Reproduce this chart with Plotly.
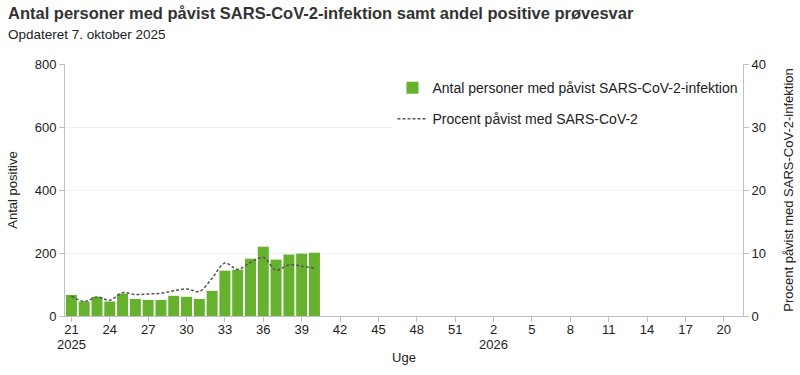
import plotly.graph_objects as go

# Data (2025, ISO weeks 21-40)
weeks = ["2025-W21", "2025-W22", "2025-W23", "2025-W24", "2025-W25", "2025-W26", "2025-W27",
         "2025-W28", "2025-W29", "2025-W30", "2025-W31", "2025-W32", "2025-W33", "2025-W34",
         "2025-W35", "2025-W36", "2025-W37", "2025-W38", "2025-W39", "2025-W40"]
antal_positive = [67, 46, 61, 46, 71, 54, 51, 51, 64, 61, 54, 80, 144, 147, 182, 220, 179, 195, 198, 201]
procent_positive = [3.2, 2.3, 3.0, 2.5, 3.7, 3.4, 3.5, 3.6, 4.0, 4.3, 3.9, 6.0, 8.4, 7.4, 8.5, 9.3, 7.3, 8.1, 7.9, 7.6]

# Axis categories: 2025-W21 .. 2026-W21
categories = [f"2025-W{w:02d}" for w in range(21, 53)] + [f"2026-W{w:02d}" for w in range(1, 22)]
tick_vals = categories[0:52:3]
tick_text = [str(int(c.split("-W")[1])) for c in tick_vals]
year_marks = [("2025-W21", "2025"), ("2026-W02", "2026")]

FONT = "Arial, Liberation Sans, sans-serif"
GREEN = "#66B22F"
AXC = "#c0c0c0"

fig = go.Figure()
fig.add_trace(go.Bar(
    x=weeks, y=antal_positive, name="Antal personer med påvist SARS-CoV-2-infektion",
    marker=dict(color=GREEN, line=dict(width=0)), legendgroup="a",
))
fig.add_trace(go.Scatter(
    x=weeks, y=procent_positive, name="Procent påvist med SARS-CoV-2",
    mode="lines", line=dict(color="#555555", width=1.5, dash="3px,2px", shape="spline"),
    yaxis="y2", legendgroup="b",
))

annotations = [
    dict(text="<b>Antal personer med påvist SARS-CoV-2-infektion samt andel positive prøvesvar</b>",
         xref="paper", yref="paper", x=0, y=1, xanchor="left", yanchor="top",
         showarrow=False, font=dict(size=16.5, color="#333333"), xshift=-59, yshift=62),
    dict(text="Opdateret 7. oktober 2025",
         xref="paper", yref="paper", x=0, y=1, xanchor="left", yanchor="top",
         showarrow=False, font=dict(size=13.5, color="#222222"), xshift=-59, yshift=39),
]
for cat, label in year_marks:
    annotations.append(dict(text=label, xref="x", yref="paper", x=cat, y=0,
                            xanchor="center", yanchor="middle", showarrow=False,
                            font=dict(size=13, color="#222222"), yshift=-28.5))

fig.update_layout(
    width=800, height=375,
    margin=dict(l=65, r=57, t=64, b=59),
    paper_bgcolor="white", plot_bgcolor="white",
    font=dict(family=FONT, size=13, color="#222222"),
    bargap=0.14,
    showlegend=True,
    legend=dict(x=0.483, y=0.968, xanchor="left", yanchor="top",
                bgcolor="white", font=dict(size=14, color="#222222"),
                tracegroupgap=10, traceorder="grouped"),
    xaxis=dict(
        type="category", categoryorder="array", categoryarray=categories,
        range=[-0.5, len(categories) - 0.5],
        tickmode="array", tickvals=tick_vals, ticktext=tick_text,
        ticks="outside", ticklen=5, tickcolor=AXC,
        showline=True, linecolor=AXC, linewidth=1,
        showgrid=False, tickangle=0, automargin=False,
        ticklabelstandoff=-4,
        title=dict(text="Uge", font=dict(size=13), standoff=17),
        tickfont=dict(size=13),
    ),
    yaxis=dict(
        range=[0, 800], dtick=200,
        ticks="outside", ticklen=5, tickcolor=AXC,
        showline=True, linecolor=AXC, linewidth=1,
        showgrid=True, gridcolor="#eeeeee", zeroline=False, automargin=False,
        title=dict(text="Antal positive", font=dict(size=13), standoff=14),
        tickfont=dict(size=13),
    ),
    yaxis2=dict(
        overlaying="y", side="right", range=[0, 40], dtick=10,
        ticks="outside", ticklen=5, tickcolor=AXC,
        showline=True, linecolor=AXC, linewidth=1,
        showgrid=False, zeroline=False, automargin=False,
        title=dict(text="Procent påvist med SARS-CoV-2-infektion", font=dict(size=13), standoff=18),
        tickfont=dict(size=13),
    ),
    annotations=annotations,
)

fig.write_html("out.html", config={"displayModeBar": False},
               post_script="document.body.style.margin='0';document.body.style.padding='0';")
